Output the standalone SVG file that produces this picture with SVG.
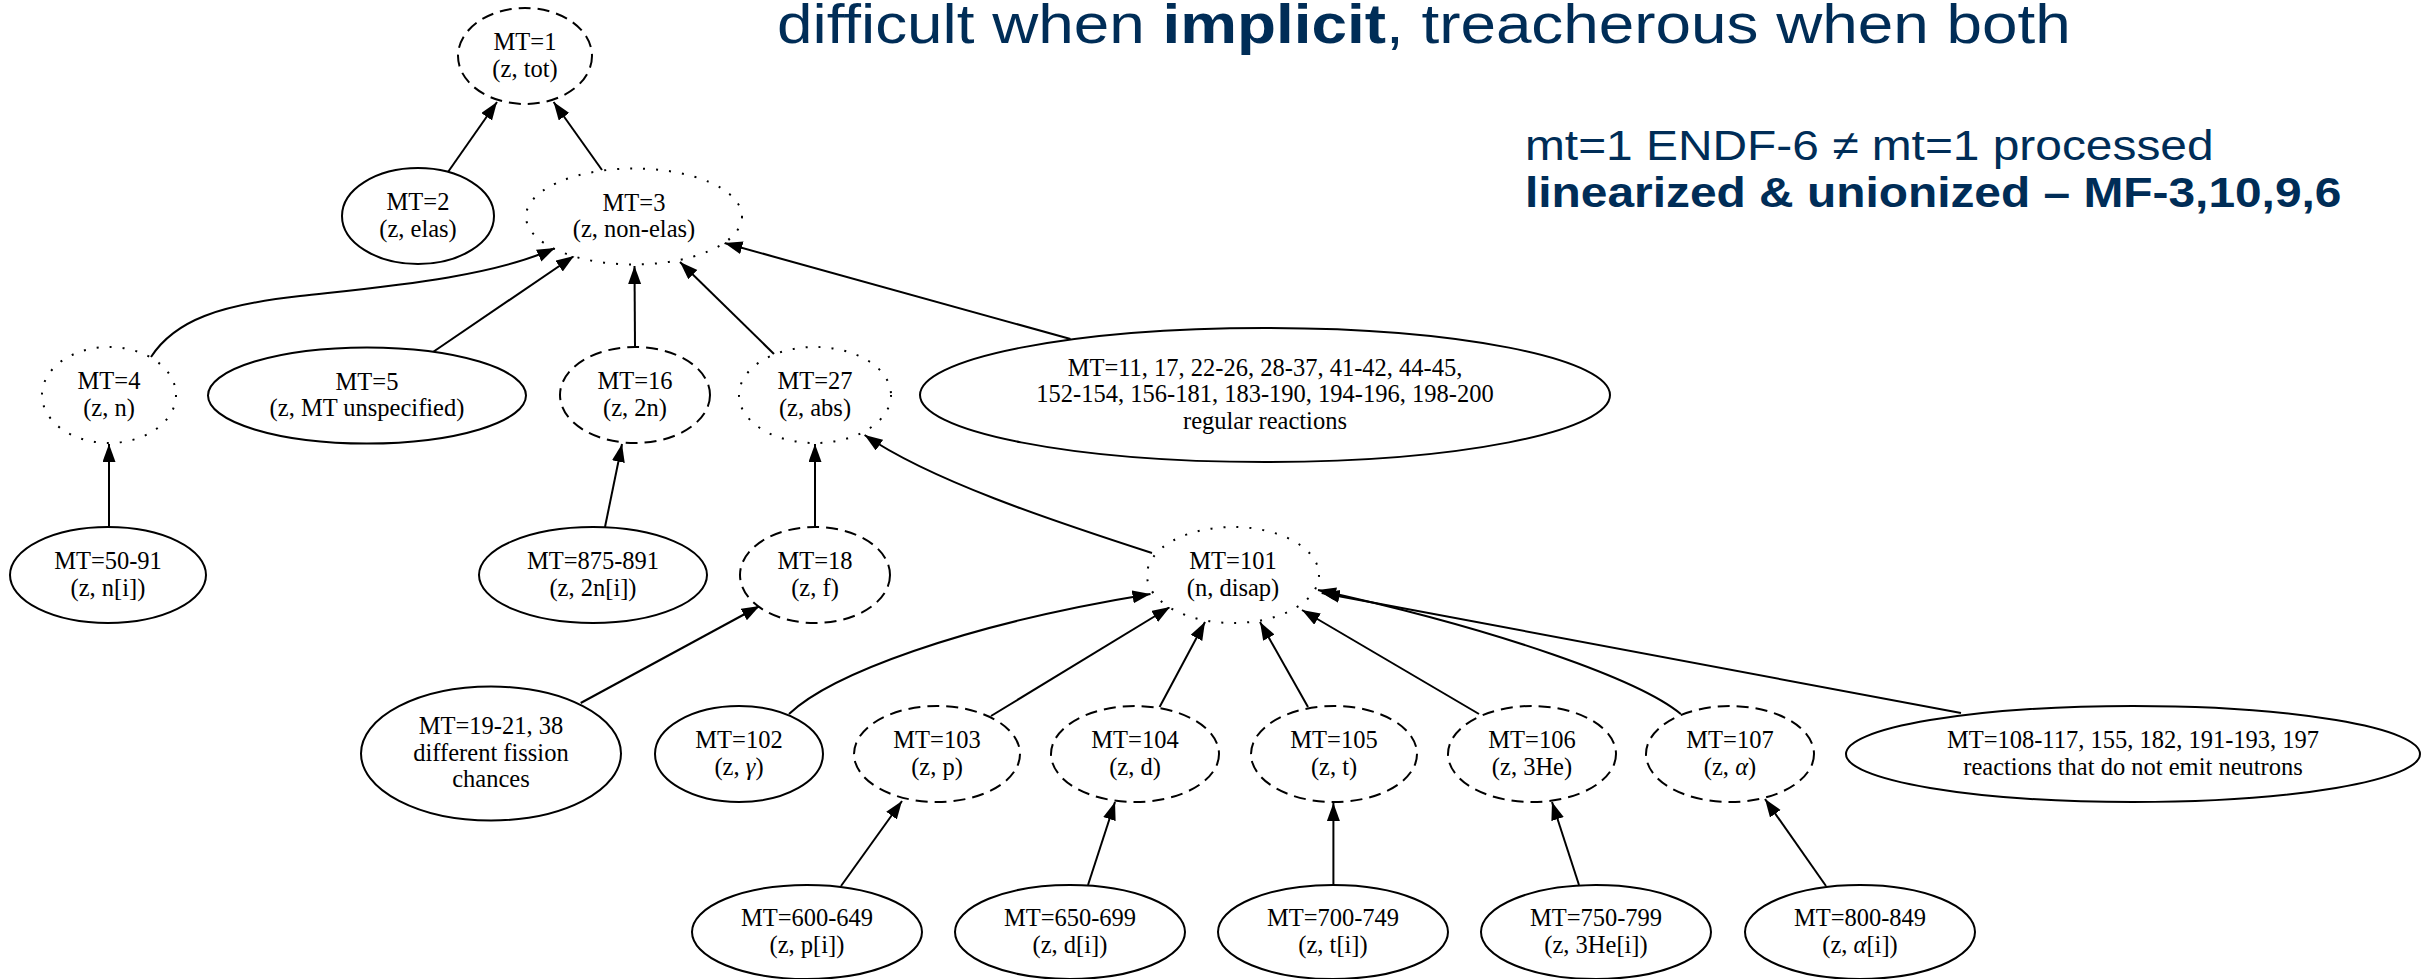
<svg xmlns="http://www.w3.org/2000/svg" width="2433" height="979" viewBox="0 0 2433 979">
<style>
.n{fill:#fff;stroke:#000;stroke-width:2}
.da{stroke-dasharray:12 7}
.do{stroke-dasharray:2 11}
.t{font-family:"Liberation Serif","Times New Roman",serif;font-size:24.5px;text-anchor:middle;fill:#000}
.e{fill:none;stroke:#000;stroke-width:2;marker-end:url(#ah)}
.h{font-family:"Liberation Sans",Arial,sans-serif;fill:#002D57}
.b{font-weight:bold}
.g{font-style:italic}
</style>
<defs>
<marker id="ah" markerWidth="19" markerHeight="14" refX="18" refY="6.5" orient="auto" markerUnits="userSpaceOnUse"><path d="M0,0 L18,6.5 L0,13 Z" fill="#000"/></marker>
</defs>
<rect width="2433" height="979" fill="#fff"/>
<g id="titles">
<text class="h" font-size="56" transform="matrix(1.14 0 0 1 777 43)" x="0" y="0">difficult when <tspan class="b">implicit</tspan>, treacherous when both</text>
<text class="h" font-size="42" transform="matrix(1.14 0 0 1 1525 160)" x="0" y="0">mt=1 ENDF-6 ≠ mt=1 processed</text>
<text class="h b" font-size="42" transform="matrix(1.14 0 0 1 1525 207)" x="0" y="0">linearized &amp; unionized – MF-3,10,9,6</text>
</g>
<g id="connectors">
<path class="e" d="M448,172 L497,102"/>
<path class="e" d="M602,170 L553.6,102"/>
<path class="e" d="M151,357 C175,320 220,305 300,296 S490,278 555,248"/>
<path class="e" d="M433,352 L574,256"/>
<path class="e" d="M635,347 L634.5,266"/>
<path class="e" d="M774,354 L680,262"/>
<path class="e" d="M1070.5,339 L724.5,243"/>
<path class="e" d="M109,527 L109,444"/>
<path class="e" d="M605,527 L622,444"/>
<path class="e" d="M815,527 L815,444"/>
<path class="e" d="M1152,553 C1050,520 930,480 864.6,435"/>
<path class="e" d="M580.7,703 L759.6,606"/>
<path class="e" d="M789,714 C830,675 960,625 1150.5,594"/>
<path class="e" d="M991,716 L1170,607"/>
<path class="e" d="M1159.6,707 L1205,622"/>
<path class="e" d="M1308,707 L1260,622"/>
<path class="e" d="M1479,714 L1302,610"/>
<path class="e" d="M1680.8,714 C1640,680 1500,630 1318,590"/>
<path class="e" d="M1961,713 L1321.7,593"/>
<path class="e" d="M841,886 L902,801"/>
<path class="e" d="M1088,885 L1115,802"/>
<path class="e" d="M1333.4,885 L1333.4,803"/>
<path class="e" d="M1579,885 L1552,802"/>
<path class="e" d="M1826,886 L1765,799"/>
</g>
<g id="n1"><ellipse class="n da" cx="525" cy="56" rx="67" ry="48"/><text class="t"><tspan x="525" y="50">MT=1</tspan><tspan x="525" y="76.5">(z, tot)</tspan></text></g>
<g id="n2"><ellipse class="n" cx="418" cy="216" rx="76" ry="48"/><text class="t"><tspan x="418" y="210">MT=2</tspan><tspan x="418" y="236.5">(z, elas)</tspan></text></g>
<g id="n3"><ellipse class="n do" cx="634" cy="216.5" rx="108" ry="48"/><text class="t"><tspan x="634" y="210.5">MT=3</tspan><tspan x="634" y="237">(z, non-elas)</tspan></text></g>
<g id="n4"><ellipse class="n do" cx="109" cy="395" rx="67" ry="48"/><text class="t"><tspan x="109" y="389">MT=4</tspan><tspan x="109" y="415.5">(z, n)</tspan></text></g>
<g id="n5"><ellipse class="n" cx="367" cy="395.5" rx="159" ry="48"/><text class="t"><tspan x="367" y="389.5">MT=5</tspan><tspan x="367" y="416">(z, MT unspecified)</tspan></text></g>
<g id="n16"><ellipse class="n da" cx="635" cy="395" rx="75" ry="48"/><text class="t"><tspan x="635" y="389">MT=16</tspan><tspan x="635" y="415.5">(z, 2n)</tspan></text></g>
<g id="n27"><ellipse class="n do" cx="815" cy="395" rx="76" ry="48"/><text class="t"><tspan x="815" y="389">MT=27</tspan><tspan x="815" y="415.5">(z, abs)</tspan></text></g>
<g id="nreg"><ellipse class="n" cx="1265" cy="395" rx="345" ry="67"/><text class="t"><tspan x="1265" y="375.5">MT=11, 17, 22-26, 28-37, 41-42, 44-45,</tspan><tspan x="1265" y="402">152-154, 156-181, 183-190, 194-196, 198-200</tspan><tspan x="1265" y="428.5">regular reactions</tspan></text></g>
<g id="n50"><ellipse class="n" cx="108" cy="575" rx="98" ry="48"/><text class="t"><tspan x="108" y="569">MT=50-91</tspan><tspan x="108" y="595.5">(z, n[i])</tspan></text></g>
<g id="n875"><ellipse class="n" cx="593" cy="575" rx="114" ry="48"/><text class="t"><tspan x="593" y="569">MT=875-891</tspan><tspan x="593" y="595.5">(z, 2n[i])</tspan></text></g>
<g id="n18"><ellipse class="n da" cx="815" cy="575" rx="75" ry="48"/><text class="t"><tspan x="815" y="569">MT=18</tspan><tspan x="815" y="595.5">(z, f)</tspan></text></g>
<g id="n101"><ellipse class="n do" cx="1233" cy="575" rx="86" ry="48"/><text class="t"><tspan x="1233" y="569">MT=101</tspan><tspan x="1233" y="595.5">(n, disap)</tspan></text></g>
<g id="n19"><ellipse class="n" cx="491" cy="753.5" rx="130" ry="67"/><text class="t"><tspan x="491" y="734">MT=19-21, 38</tspan><tspan x="491" y="760.5">different fission</tspan><tspan x="491" y="787">chances</tspan></text></g>
<g id="n102"><ellipse class="n" cx="739" cy="754" rx="84" ry="48"/><text class="t"><tspan x="739" y="748">MT=102</tspan><tspan x="739" y="774.5">(z, <tspan class="g">γ</tspan>)</tspan></text></g>
<g id="n103"><ellipse class="n da" cx="937" cy="754" rx="83" ry="48"/><text class="t"><tspan x="937" y="748">MT=103</tspan><tspan x="937" y="774.5">(z, p)</tspan></text></g>
<g id="n104"><ellipse class="n da" cx="1135" cy="754" rx="84" ry="48"/><text class="t"><tspan x="1135" y="748">MT=104</tspan><tspan x="1135" y="774.5">(z, d)</tspan></text></g>
<g id="n105"><ellipse class="n da" cx="1334" cy="754" rx="83" ry="48"/><text class="t"><tspan x="1334" y="748">MT=105</tspan><tspan x="1334" y="774.5">(z, t)</tspan></text></g>
<g id="n106"><ellipse class="n da" cx="1532" cy="754" rx="84" ry="48"/><text class="t"><tspan x="1532" y="748">MT=106</tspan><tspan x="1532" y="774.5">(z, 3He)</tspan></text></g>
<g id="n107"><ellipse class="n da" cx="1730" cy="754" rx="84" ry="48"/><text class="t"><tspan x="1730" y="748">MT=107</tspan><tspan x="1730" y="774.5">(z, <tspan class="g">α</tspan>)</tspan></text></g>
<g id="n108"><ellipse class="n" cx="2133" cy="754" rx="287" ry="48"/><text class="t"><tspan x="2133" y="748">MT=108-117, 155, 182, 191-193, 197</tspan><tspan x="2133" y="774.5">reactions that do not emit neutrons</tspan></text></g>
<g id="n600"><ellipse class="n" cx="807" cy="932" rx="115" ry="47"/><text class="t"><tspan x="807" y="926">MT=600-649</tspan><tspan x="807" y="952.5">(z, p[i])</tspan></text></g>
<g id="n650"><ellipse class="n" cx="1070" cy="932" rx="115" ry="47"/><text class="t"><tspan x="1070" y="926">MT=650-699</tspan><tspan x="1070" y="952.5">(z, d[i])</tspan></text></g>
<g id="n700"><ellipse class="n" cx="1333" cy="932" rx="115" ry="47"/><text class="t"><tspan x="1333" y="926">MT=700-749</tspan><tspan x="1333" y="952.5">(z, t[i])</tspan></text></g>
<g id="n750"><ellipse class="n" cx="1596" cy="932" rx="115" ry="47"/><text class="t"><tspan x="1596" y="926">MT=750-799</tspan><tspan x="1596" y="952.5">(z, 3He[i])</tspan></text></g>
<g id="n800"><ellipse class="n" cx="1860" cy="932" rx="115" ry="47"/><text class="t"><tspan x="1860" y="926">MT=800-849</tspan><tspan x="1860" y="952.5">(z, <tspan class="g">α</tspan>[i])</tspan></text></g>
</svg>
